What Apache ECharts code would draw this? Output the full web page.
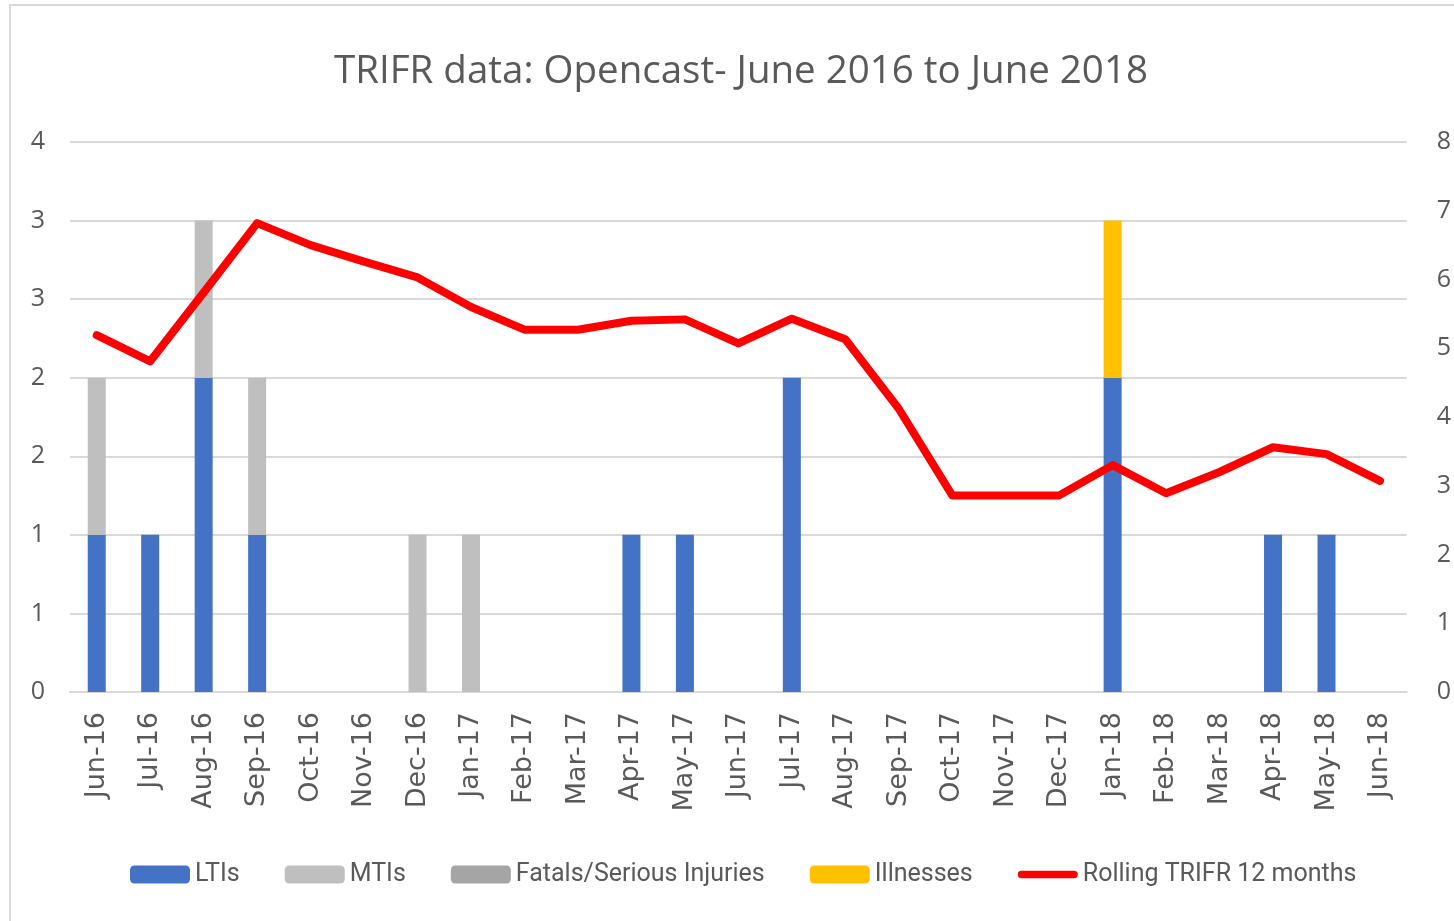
<!DOCTYPE html>
<html>
<head>
<meta charset="utf-8">
<title>TRIFR data: Opencast</title>
<script src="https://cdn.jsdelivr.net/npm/echarts@6/dist/echarts.min.js"></script>
<style>
  html, body { margin: 0; padding: 0; background: #fff; }
  #chart { width: 1454px; height: 921px; }
</style>
</head>
<body>
<div id="chart"></div>
<script>
/* Monthly incident counts, Jun-16 .. Jun-18 */
let months = [
  "Jun-16", "Jul-16", "Aug-16", "Sep-16", "Oct-16", "Nov-16", "Dec-16",
  "Jan-17", "Feb-17", "Mar-17", "Apr-17", "May-17", "Jun-17", "Jul-17",
  "Aug-17", "Sep-17", "Oct-17", "Nov-17", "Dec-17", "Jan-18", "Feb-18",
  "Mar-18", "Apr-18", "May-18", "Jun-18",
];
let ltis      = [1, 1, 2, 1, 0, 0, 0, 0, 0, 0, 1, 1, 0, 2, 0, 0, 0, 0, 0, 2, 0, 0, 1, 1, 0];
let mtis      = [1, 0, 1, 1, 0, 0, 1, 1, 0, 0, 0, 0, 0, 0, 0, 0, 0, 0, 0, 0, 0, 0, 0, 0, 0];
let fatals    = [0, 0, 0, 0, 0, 0, 0, 0, 0, 0, 0, 0, 0, 0, 0, 0, 0, 0, 0, 0, 0, 0, 0, 0, 0];
let illnesses = [0, 0, 0, 0, 0, 0, 0, 0, 0, 0, 0, 0, 0, 0, 0, 0, 0, 0, 0, 1, 0, 0, 0, 0, 0];
let rollingTrifr = [
  5.19, 4.81, 5.81, 6.82, 6.50, 6.26, 6.03, 5.60, 5.27, 5.27, 5.40, 5.42, 5.07,
  5.43, 5.13, 4.12, 2.86, 2.86, 2.86, 3.30, 2.89, 3.20, 3.56, 3.46, 3.07,
];

let TEXT_GREY = "#595959";
let GRID_GREY = "#d9d9d9";
let RED = "#ff0000";

/* thick rounded stroke for the line's legend key; the two dots pad its box to full item height */
let LINE_KEY = "path://M0,0 L0.01,0 Z M0,18 L0.01,18 Z M4,5 L61,5 A4,4 0 0 1 61,13 L4,13 A4,4 0 0 1 4,5 Z";

let chart = echarts.init(document.getElementById("chart"), null, { renderer: "canvas" });

function barSeries(name, data, color) {
  return {
    name: name,
    type: "bar",
    stack: "incidents",
    yAxisIndex: 0,
    barWidth: 18,
    itemStyle: { color: color },
    data: data,
  };
}

chart.setOption({
  animation: false,
  backgroundColor: "#fff",
  graphic: [{
    type: "rect",
    shape: { x: 10, y: 5, width: 1500, height: 1000 },
    style: { fill: "transparent", stroke: GRID_GREY, lineWidth: 2 },
    silent: true,
  }],
  title: {
    text: "TRIFR data: Opencast- June 2016 to June 2018",
    left: 329,
    top: 48,
    textStyle: { fontFamily: "Open Sans", fontSize: 38.5, fontWeight: "normal", color: TEXT_GREY },
  },
  grid: { left: 70, right: 44, top: 142, bottom: 229 },
  legend: {
    left: 125,
    top: 857,
    itemWidth: 60,
    itemHeight: 18,
    itemGap: 45,
    textStyle: { fontFamily: "Roboto", fontSize: 25, color: TEXT_GREY },
    data: [
      "LTIs",
      "MTIs",
      "Fatals/Serious Injuries",
      "Illnesses",
      {
        name: "Rolling TRIFR 12 months",
        icon: LINE_KEY,
        itemStyle: { color: RED, borderWidth: 0 },
      },
    ],
  },
  xAxis: {
    type: "category",
    data: months,
    axisLine: { lineStyle: { color: GRID_GREY, width: 2 } },
    axisTick: { show: false },
    axisLabel: {
      rotate: 90,
      margin: 20,
      interval: 0,
      fontFamily: "DejaVu Sans",
      fontSize: 27,
      color: TEXT_GREY,
    },
  },
  yAxis: [
    {
      type: "value",
      min: 0,
      max: 3.5,
      interval: 0.5,
      axisLine: { show: false },
      axisTick: { show: false },
      splitLine: { lineStyle: { color: GRID_GREY, width: 2 } },
      axisLabel: {
        margin: 25,
        fontFamily: "Open Sans",
        fontSize: 25,
        color: TEXT_GREY,
        // Excel shows the half-steps rounded to whole numbers
        formatter: (v) => String(Math.round(v)),
      },
    },
    {
      type: "value",
      min: 0,
      max: 8,
      interval: 1,
      axisLine: { show: false },
      axisTick: { show: false },
      splitLine: { show: false },
      axisLabel: { margin: 30, fontFamily: "Open Sans", fontSize: 25, color: TEXT_GREY },
    },
  ],
  series: [
    barSeries("LTIs", ltis, "#4472c4"),
    barSeries("MTIs", mtis, "#bfbfbf"),
    barSeries("Fatals/Serious Injuries", fatals, "#a5a5a5"),
    barSeries("Illnesses", illnesses, "#ffc000"),
    {
      name: "Rolling TRIFR 12 months",
      type: "line",
      yAxisIndex: 1,
      symbol: "none",
      z: 5,
      lineStyle: { color: RED, width: 8, cap: "round", join: "round" },
      itemStyle: { color: RED },
      data: rollingTrifr,
    },
  ],
});
</script>
</body>
</html>
